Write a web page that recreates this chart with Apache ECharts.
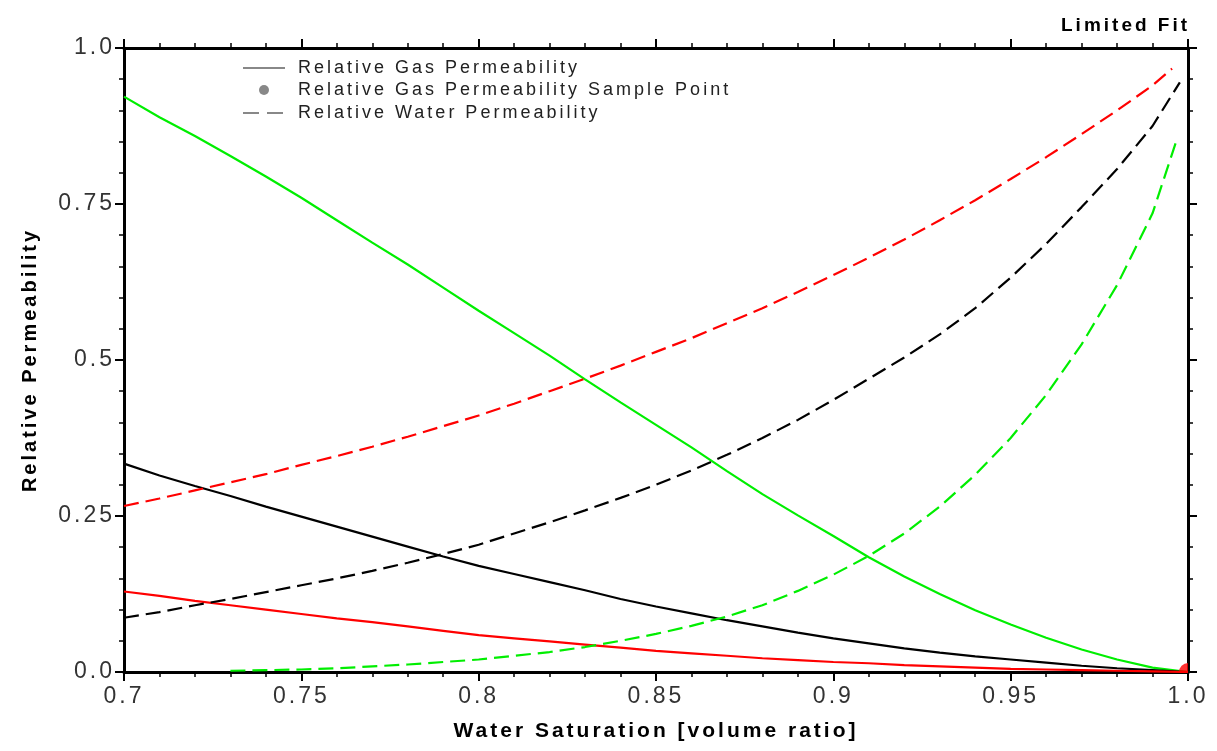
<!DOCTYPE html>
<html>
<head>
<meta charset="utf-8">
<script src="https://cdn.jsdelivr.net/npm/echarts@6/dist/echarts.min.js"></script>
<style>
html,body{margin:0;padding:0;background:#fff;}
#chart{width:1217px;height:751px;}
</style>
</head>
<body>
<div id="chart"></div>
<script>
// Water saturation grid (volume ratio)
var sw = [0.70,0.71,0.72,0.73,0.74,0.75,0.76,0.77,0.78,0.79,
          0.80,0.81,0.82,0.83,0.84,0.85,0.86,0.87,0.88,0.89,
          0.90,0.91,0.92,0.93,0.94,0.95,0.96,0.97,0.98,0.99,1.00];

// Relative gas permeability (solid)
var gasGreen = [0.922,0.889,0.859,0.827,0.794,0.760,0.724,0.688,0.653,0.616,
                0.579,0.543,0.507,0.469,0.432,0.396,0.360,0.322,0.285,0.251,
                0.218,0.184,0.153,0.125,0.099,0.076,0.055,0.036,0.020,0.007,0.000];
var gasBlack = [0.334,0.315,0.298,0.282,0.265,0.249,0.233,0.217,0.201,0.185,
                0.170,0.157,0.144,0.131,0.117,0.105,0.094,0.083,0.073,0.063,
                0.054,0.046,0.038,0.031,0.025,0.020,0.015,0.010,0.006,0.003,0.000];
var gasRed   = [0.129,0.122,0.114,0.107,0.100,0.093,0.086,0.080,0.073,0.066,
                0.059,0.054,0.049,0.044,0.039,0.034,0.030,0.026,0.022,0.019,
                0.016,0.014,0.011,0.009,0.007,0.005,0.004,0.003,0.002,0.001,0.000];

// Relative water permeability (dashed) — same grid up to 0.99, then the end point
var waterRed   = [0.266,0.278,0.291,0.304,0.317,0.332,0.346,0.361,0.377,0.394,
                  0.411,0.430,0.450,0.470,0.491,0.513,0.535,0.559,0.583,0.609,
                  0.636,0.664,0.693,0.724,0.756,0.790,0.825,0.862,0.900,0.940];
var waterRedEnd = [0.9955, 0.967];
var waterBlack = [0.087,0.096,0.107,0.117,0.128,0.139,0.150,0.162,0.175,0.189,
                  0.204,0.222,0.240,0.259,0.279,0.300,0.323,0.348,0.375,0.404,
                  0.436,0.470,0.504,0.541,0.583,0.632,0.686,0.745,0.806,0.875];
var waterBlackEnd = [0.9977, 0.945];
var waterGreen = [null,null,null,0.002,0.003,0.004,0.006,0.009,0.012,0.016,
                  0.020,0.026,0.032,0.040,0.050,0.061,0.074,0.089,0.107,0.130,
                  0.156,0.186,0.222,0.265,0.316,0.375,0.444,0.525,0.620,0.735];
var waterGreenEnd = [0.997, 0.856];

// Sample point
var samplePoint = [[1.0, 0.0]];

// Tick labels
var xTickLabels = ['0.7','0.75','0.8','0.85','0.9','0.95','1.0'];
var yTickLabels = ['0.0','0.25','0.5','0.75','1.0'];

var legendLabels = ['Relative Gas Permeability',
                    'Relative Gas Permeability Sample Point',
                    'Relative Water Permeability'];

// Wide letter spacing like the original plotting program (canvas letterSpacing)
(function () {
  var P = CanvasRenderingContext2D.prototype;
  var fill = P.fillText, measure = P.measureText;
  P.fillText = function () { try { this.letterSpacing = '3px'; } catch (e) {} return fill.apply(this, arguments); };
  P.measureText = function () { try { this.letterSpacing = '3px'; } catch (e) {} return measure.apply(this, arguments); };
})();

function pairs(ys, end) {
  var out = [];
  for (var i = 0; i < ys.length; i++) {
    if (ys[i] !== null) out.push([sw[i], ys[i]]);
  }
  if (end) out.push(end);
  return out;
}

var GREEN = '#00ee00', RED = '#ff0000', BLACK = '#000000';
var DASH = [15, 7];
var FONT = 'Liberation Sans';

function lineSeries(name, data, color, dashed) {
  return {
    name: name, type: 'line', data: data, showSymbol: false, symbol: 'none',
    smooth: false, animation: false, z: 3,
    lineStyle: { color: color, width: 2.2, type: dashed ? DASH : 'solid' }
  };
}

var chart = echarts.init(document.getElementById('chart'), null, {renderer: 'canvas'});

var axisCommon = {
  axisLine: { show: true, onZero: false, lineStyle: { color: '#000', width: 3 } },
  axisTick: { show: true, inside: false, length: 9, lineStyle: { color: '#000', width: 2 } },
  minorTick: { show: true, splitNumber: 5, length: 5, lineStyle: { color: '#000', width: 1.5 } },
  splitLine: { show: false }
};

var option = {
  backgroundColor: '#fff',
  animation: false,
  title: {
    text: 'Limited Fit', left: 1056, top: 10,
    textStyle: { fontFamily: FONT, fontWeight: 'bold', fontSize: 19, color: '#000' }
  },
  grid: { left: 124, right: 29, top: 48, bottom: 79, containLabel: false },
  xAxis: [
    Object.assign({}, axisCommon, {
      type: 'value', min: 0.7, max: 1.0, interval: 0.05, position: 'bottom',
      name: 'Water Saturation [volume ratio]', nameLocation: 'middle', nameGap: 47,
      nameTextStyle: { fontFamily: FONT, fontWeight: 'bold', fontSize: 21, color: '#000' },
      axisLabel: {
        show: true, margin: 12, fontFamily: FONT, fontSize: 23, color: '#333',
        formatter: function (v) { return xTickLabels[Math.round((v - 0.7) / 0.05)] || ''; }
      }
    }),
    Object.assign({}, axisCommon, {
      type: 'value', min: 0.7, max: 1.0, interval: 0.05, position: 'top',
      axisLabel: { show: false }
    })
  ],
  yAxis: [
    Object.assign({}, axisCommon, {
      type: 'value', min: 0, max: 1.0, interval: 0.25, position: 'left',
      name: 'Relative Permeability', nameLocation: 'middle', nameGap: 82, nameRotate: 90,
      nameTextStyle: { fontFamily: FONT, fontWeight: 'bold', fontSize: 20, color: '#000' },
      axisLabel: {
        show: true, margin: 9, fontFamily: FONT, fontSize: 23, color: '#333',
        formatter: function (v) { return yTickLabels[Math.round(v / 0.25)] || ''; }
      }
    }),
    Object.assign({}, axisCommon, {
      type: 'value', min: 0, max: 1.0, interval: 0.25, position: 'right',
      axisLabel: { show: false }
    })
  ],
  series: [
    lineSeries('gasGreen', pairs(gasGreen), GREEN, false),
    lineSeries('gasBlack', pairs(gasBlack), BLACK, false),
    lineSeries('gasRed', pairs(gasRed), RED, false),
    lineSeries('waterRed', pairs(waterRed, waterRedEnd), RED, true),
    lineSeries('waterBlack', pairs(waterBlack, waterBlackEnd), BLACK, true),
    lineSeries('waterGreen', pairs(waterGreen, waterGreenEnd), GREEN, true),
    {
      name: 'sample', type: 'scatter', data: samplePoint,
      symbol: 'path://M10,0 L10,10 L0,10 A10,10 0 0,1 10,0 Z',
      symbolSize: 9, symbolOffset: [-4.5, -4.5],
      clip: false, itemStyle: { color: RED }, z: 4
    }
  ],
  graphic: [
    { type: 'line', shape: { x1: 243, y1: 68, x2: 285, y2: 68 }, style: { stroke: '#888', lineWidth: 2 } },
    { type: 'circle', shape: { cx: 264, cy: 90, r: 5 }, style: { fill: '#888' } },
    { type: 'line', shape: { x1: 243, y1: 113, x2: 285, y2: 113 }, style: { stroke: '#888', lineWidth: 2, lineDash: [16, 8] } },
    { type: 'text', left: 298, top: 58, style: { text: legendLabels[0], fontFamily: FONT, fontSize: 18, fill: '#222' } },
    { type: 'text', left: 298, top: 80, style: { text: legendLabels[1], fontFamily: FONT, fontSize: 18, fill: '#222' } },
    { type: 'text', left: 298, top: 103, style: { text: legendLabels[2], fontFamily: FONT, fontSize: 18, fill: '#222' } }
  ]
};
chart.setOption(option);
</script>
</body>
</html>
